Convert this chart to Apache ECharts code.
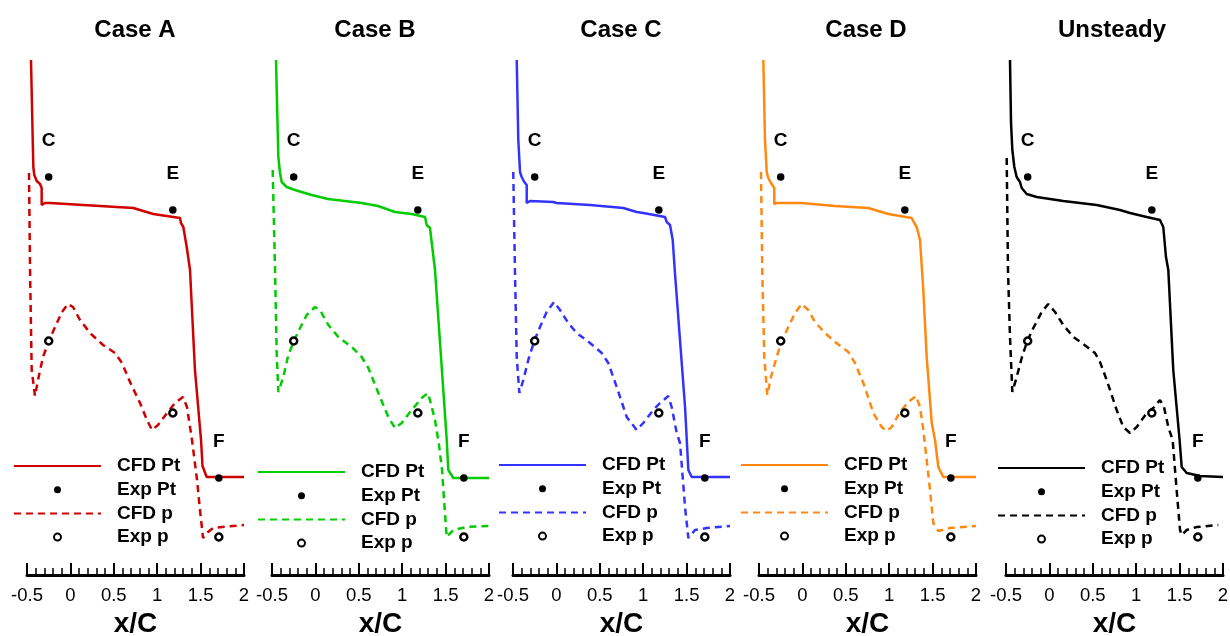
<!DOCTYPE html>
<html>
<head>
<meta charset="utf-8">
<script src="https://cdn.jsdelivr.net/npm/echarts@6/dist/echarts.min.js"></script>
<style>
html,body{margin:0;padding:0;background:#fff;}
#chart{width:1230px;height:636px;}
</style>
</head>
<body>
<div id="chart"></div>
<script>
// ---------------- DATA ----------------
const panelTitles = ['Case A', 'Case B', 'Case C', 'Case D', 'Unsteady'];
const xTickLabels = ['-0.5', '0', '0.5', '1', '1.5', '2'];
const legendNames = ['CFD Pt', 'Exp Pt', 'CFD p', 'Exp p'];
const pointLabels = ['C', 'E', 'F'];

// experimental data (same in every panel)
const expPtX = [-0.25, 1.18, 1.71];
const expPtY = [3.98, 3.65, 0.97];
const expPX = [-0.25, 1.18, 1.71];
const expPY = [2.34, 1.62, 0.38];

// Case A
const cfdPtX_A = [-0.454,-0.434,-0.427,-0.416,-0.388,-0.350,-0.331,-0.331,-0.293,-0.235,-0.043,0.341,0.725,0.840,0.955,1.263,1.274,1.301,1.340,1.378,1.435,1.505,1.522,1.570,2.0];
const cfdPtY_A = [5.15,4.35,4.08,4.00,3.94,3.91,3.87,3.70,3.72,3.72,3.71,3.69,3.67,3.64,3.61,3.57,3.52,3.48,3.28,3.05,2.05,1.35,1.09,0.98,0.98];
const cfdPX_A = [-0.477,-0.465,-0.446,-0.408,-0.373,-0.316,-0.247,-0.177,-0.097,-0.028,0.030,0.111,0.226,0.376,0.514,0.594,0.687,0.802,0.882,0.940,1.009,1.113,1.205,1.297,1.343,1.401,1.459,1.493,1.528,1.585,1.643,1.873,2.0];
const cfdPY_A = [4.02,3.05,2.05,1.79,1.95,2.18,2.34,2.48,2.63,2.71,2.68,2.55,2.42,2.30,2.22,2.12,1.93,1.72,1.55,1.45,1.50,1.62,1.72,1.78,1.68,1.35,0.95,0.65,0.37,0.43,0.47,0.49,0.50];

// Case B
const cfdPtX_B = [-0.454,-0.427,-0.408,-0.388,-0.331,-0.235,-0.043,0.145,0.533,0.721,0.917,1.109,1.263,1.282,1.320,1.378,1.513,1.531,1.589,2.0];
const cfdPtY_B = [5.15,4.18,4.02,3.93,3.88,3.85,3.80,3.76,3.72,3.69,3.63,3.61,3.58,3.50,3.47,3.05,1.35,1.05,0.97,0.97];
const cfdPX_B = [-0.492,-0.465,-0.446,-0.427,-0.370,-0.312,-0.247,-0.177,-0.100,-0.005,0.053,0.149,0.264,0.418,0.533,0.610,0.725,0.840,0.917,0.994,1.109,1.225,1.294,1.320,1.378,1.424,1.459,1.482,1.513,1.589,1.743,1.992];
const cfdPY_B = [4.05,3.05,2.22,1.83,1.98,2.20,2.34,2.47,2.60,2.68,2.65,2.50,2.38,2.28,2.18,2.07,1.82,1.58,1.47,1.52,1.65,1.77,1.82,1.75,1.55,1.30,1.05,0.75,0.38,0.45,0.48,0.49];

// Case C
const cfdPtX_C = [-0.457,-0.439,-0.419,-0.400,-0.370,-0.342,-0.342,-0.304,-0.036,0.003,0.387,0.771,0.925,1.001,1.251,1.271,1.309,1.340,1.366,1.424,1.482,1.520,1.559,2.0];
const cfdPtY_C = [5.15,4.35,4.03,3.98,3.93,3.90,3.72,3.74,3.73,3.72,3.70,3.67,3.63,3.62,3.58,3.53,3.50,3.35,3.02,2.35,1.68,1.05,0.98,0.98];
const cfdPX_C = [-0.497,-0.477,-0.457,-0.427,-0.381,-0.324,-0.255,-0.189,-0.112,-0.028,0.041,0.137,0.234,0.387,0.522,0.598,0.695,0.810,0.925,1.001,1.116,1.194,1.289,1.328,1.386,1.424,1.444,1.482,1.520,1.597,1.732,2.0];
const cfdPY_C = [4.03,3.02,2.18,1.82,1.95,2.15,2.34,2.48,2.63,2.73,2.65,2.52,2.42,2.32,2.22,2.12,1.88,1.58,1.45,1.52,1.65,1.72,1.79,1.68,1.42,1.32,1.10,0.68,0.37,0.45,0.47,0.49];

// Case D
const cfdPtX_D = [-0.450,-0.431,-0.411,-0.393,-0.362,-0.324,-0.324,-0.296,-0.008,0.376,0.759,0.874,0.990,1.259,1.289,1.317,1.355,1.393,1.432,1.490,1.528,1.566,1.623,2.0];
const cfdPtY_D = [5.15,4.35,4.03,3.97,3.92,3.87,3.71,3.72,3.72,3.69,3.67,3.64,3.61,3.57,3.52,3.48,3.35,2.85,2.18,1.52,1.35,1.08,0.98,0.98];
const cfdPX_D = [-0.477,-0.462,-0.439,-0.404,-0.362,-0.296,-0.238,-0.162,-0.085,-0.008,0.068,0.145,0.260,0.376,0.529,0.606,0.702,0.817,0.914,0.971,1.029,1.124,1.220,1.309,1.355,1.393,1.432,1.470,1.508,1.566,1.700,2.0];
const cfdPY_D = [4.03,3.02,2.18,1.80,1.98,2.18,2.34,2.48,2.62,2.71,2.65,2.53,2.42,2.33,2.23,2.12,1.92,1.62,1.48,1.44,1.48,1.63,1.73,1.79,1.68,1.45,1.15,0.85,0.52,0.44,0.47,0.49];

// Unsteady
const cfdPtX_U = [-0.454,-0.442,-0.427,-0.404,-0.377,-0.339,-0.319,-0.262,-0.146,0.160,0.545,0.813,0.929,1.121,1.274,1.312,1.343,1.370,1.427,1.500,1.524,1.582,1.735,2.0];
const cfdPtY_U = [5.15,4.52,4.25,4.08,3.98,3.93,3.87,3.81,3.78,3.74,3.70,3.65,3.62,3.58,3.55,3.48,3.18,3.05,2.05,1.35,1.08,1.02,0.99,0.98];
const cfdPX_U = [-0.492,-0.477,-0.454,-0.427,-0.377,-0.319,-0.255,-0.185,-0.089,-0.013,0.065,0.160,0.275,0.391,0.525,0.583,0.660,0.775,0.851,0.929,1.006,1.121,1.197,1.274,1.320,1.370,1.420,1.466,1.505,1.524,1.582,1.697,1.946];
const cfdPY_U = [4.17,3.05,2.38,1.83,1.98,2.17,2.34,2.47,2.63,2.71,2.63,2.50,2.38,2.31,2.22,2.13,1.95,1.65,1.48,1.42,1.48,1.62,1.67,1.75,1.68,1.48,1.35,0.85,0.45,0.40,0.45,0.48,0.50];

// ---------------- STYLE / LAYOUT ----------------
const panelColors = ['#d00000', '#00cc00', '#3333ff', '#ff8811', '#000000'];
const gridLefts = [27, 272, 513, 759, 1006];
const gridWidth = 217;
const titleCenters = [135, 375, 621, 866, 1112];
const legendLefts = [13, 257, 498, 740, 997];
const legendTops = [456, 462, 455, 455, 458];
const FONT = 'Liberation Sans, Arial, Helvetica, sans-serif';

const cfdPtXs = [cfdPtX_A, cfdPtX_B, cfdPtX_C, cfdPtX_D, cfdPtX_U];
const cfdPtYs = [cfdPtY_A, cfdPtY_B, cfdPtY_C, cfdPtY_D, cfdPtY_U];
const cfdPXs = [cfdPX_A, cfdPX_B, cfdPX_C, cfdPX_D, cfdPX_U];
const cfdPYs = [cfdPY_A, cfdPY_B, cfdPY_C, cfdPY_D, cfdPY_U];

const zip = (xs, ys) => xs.map((x, i) => [x, ys[i]]);

const grid = [], xAxis = [], yAxis = [], series = [], legend = [], title = [];

panelTitles.forEach((t, i) => {
  const col = panelColors[i];
  grid.push({ left: gridLefts[i], width: gridWidth, top: 40, bottom: 61, containLabel: false, outerBoundsMode: 'none' });
  xAxis.push({
    type: 'value', gridIndex: i, min: -0.5, max: 2, interval: 0.5,
    name: 'x/C', nameLocation: 'middle', nameGap: 34,
    nameTextStyle: { fontSize: 28, fontWeight: 'bold', color: '#000', fontFamily: FONT },
    axisLine: { show: true, onZero: false, lineStyle: { color: '#000', width: 3 } },
    axisTick: { show: true, inside: true, length: 12, lineStyle: { color: '#000', width: 2 } },
    minorTick: { show: true, splitNumber: 5, length: 7, lineStyle: { color: '#000', width: 1.5 } },
    splitLine: { show: false }, minorSplitLine: { show: false },
    axisLabel: {
      fontSize: 18.5, color: '#000', margin: 11, fontFamily: FONT,
      showMinLabel: true, showMaxLabel: true,
      formatter: v => xTickLabels[Math.round((v + 0.5) / 0.5)]
    }
  });
  yAxis.push({ type: 'value', gridIndex: i, min: 0, max: 5.35, show: false });

  const names = legendNames.map(n => i + '|' + n);
  series.push({
    name: names[0], type: 'line', xAxisIndex: i, yAxisIndex: i,
    data: zip(cfdPtXs[i], cfdPtYs[i]), symbol: 'none', showSymbol: false,
    lineStyle: { color: col, width: 2.5 }, itemStyle: { color: col }, z: 3
  });
  series.push({
    name: names[1], type: 'scatter', xAxisIndex: i, yAxisIndex: i,
    data: zip(expPtX, expPtY), symbol: 'circle', symbolSize: 7.5,
    itemStyle: { color: '#000', opacity: 1 }, z: 5,
    label: {
      show: true, position: 'top', distance: 23,
      formatter: p => pointLabels[p.dataIndex],
      fontSize: 19, fontWeight: 'bold', color: '#000', opacity: 1, fontFamily: FONT
    }
  });
  series.push({
    name: names[2], type: 'line', xAxisIndex: i, yAxisIndex: i,
    data: zip(cfdPXs[i], cfdPYs[i]), symbol: 'none', showSymbol: false,
    lineStyle: { color: col, width: 2.5, type: [7, 5] }, itemStyle: { color: col }, z: 3
  });
  series.push({
    name: names[3], type: 'scatter', xAxisIndex: i, yAxisIndex: i,
    data: zip(expPX, expPY), symbol: 'circle', symbolSize: 7,
    itemStyle: { color: '#fff', borderColor: '#000', borderWidth: 2.5, opacity: 1 }, z: 5
  });

  legend.push({
    data: [
      { name: names[0], itemStyle: { opacity: 0 } },
      { name: names[1] },
      { name: names[2], itemStyle: { opacity: 0 } },
      { name: names[3] }
    ],
    orient: 'vertical', left: legendLefts[i], top: legendTops[i],
    itemWidth: 87, itemHeight: 7, itemGap: 3.7, padding: 0, selectedMode: false,
    formatter: n => n.split('|')[1],
    textStyle: { fontSize: 19, fontWeight: 'bold', color: '#000', lineHeight: 20, padding: [0, 0, 0, 11], fontFamily: FONT }
  });

  title.push({
    text: t, left: titleCenters[i], top: 18, textAlign: 'center', padding: 0,
    textStyle: { fontSize: 24, fontWeight: 'bold', color: '#000', fontFamily: FONT }
  });
});

const chart = echarts.init(document.getElementById('chart'), null, { renderer: 'canvas' });
chart.setOption({
  animation: false,
  backgroundColor: '#fff',
  title, legend, grid, xAxis, yAxis, series
});
</script>
</body>
</html>
